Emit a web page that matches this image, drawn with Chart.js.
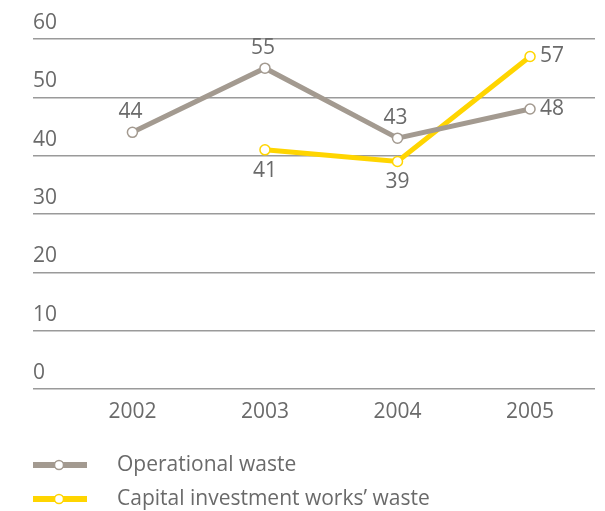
<!DOCTYPE html>
<html>
<head>
<meta charset="utf-8">
<script src="https://cdn.jsdelivr.net/npm/chart.js@4/dist/chart.umd.min.js"></script>
<style>
  html, body { margin: 0; padding: 0; background: #fff; }
  #wrap { width: 605px; height: 511px; }
</style>
</head>
<body>
<div id="wrap"><canvas id="wasteChart" width="605" height="511"></canvas></div>
<script>
// Chart data
const years = [2002, 2003, 2004, 2005];
const operationalWaste = [44, 55, 43, 48];
const capitalWaste = [null, 41, 39, 57];
const yTicks = [0, 10, 20, 30, 40, 50, 60];
const seriesNames = ['Operational waste', 'Capital investment works\u2019 waste'];

const GREY = '#a39a90';
const YELLOW = '#ffd500';
const TEXT = '#6a6a6a';
const FONT = '"Open Sans", sans-serif';
const FONT_SIZE = 21;

function toPoints(values) {
    return years
        .map((y, i) => ({ x: y, y: values[i] }))
        .filter(p => p.y !== null);
}

// value labels next to each point
const valueLabels = {
    id: 'valueLabels',
    afterDatasetsDraw(chart, args, opts) {
        const ctx = chart.ctx;
        ctx.save();
        ctx.font = FONT_SIZE + 'px ' + FONT;
        ctx.fillStyle = TEXT;
        ctx.textBaseline = 'middle';
        chart.data.datasets.forEach((ds, di) => {
            const meta = chart.getDatasetMeta(di);
            meta.data.forEach((pt, i) => {
                const pos = opts.positions[di][i];
                const txt = String(ds.data[i].y);
                if (pos === 'right') {
                    ctx.textAlign = 'left';
                    ctx.fillText(txt, pt.x + 10, pt.y);
                } else if (pos === 'bottom') {
                    ctx.textAlign = 'center';
                    ctx.fillText(txt, pt.x, pt.y + 21);
                } else {
                    ctx.textAlign = 'center';
                    ctx.fillText(txt, pt.x - 2, pt.y - 20);
                }
            });
        });
        ctx.restore();
    }
};

// legend drawn under the axis
const bottomLegend = {
    id: 'bottomLegend',
    afterDraw(chart) {
        const ctx = chart.ctx;
        ctx.save();
        const rows = [465, 499];
        chart.data.datasets.forEach((ds, i) => {
            const y = rows[i];
            ctx.strokeStyle = ds.borderColor;
            ctx.lineWidth = 6;
            ctx.beginPath();
            ctx.moveTo(33, y);
            ctx.lineTo(87, y);
            ctx.stroke();
            ctx.beginPath();
            ctx.arc(59, y, 4.5, 0, Math.PI * 2);
            ctx.fillStyle = '#fff';
            ctx.fill();
            ctx.lineWidth = 1.5;
            ctx.stroke();
            ctx.font = FONT_SIZE + 'px ' + FONT;
            ctx.fillStyle = TEXT;
            ctx.textAlign = 'left';
            ctx.textBaseline = 'middle';
            ctx.fillText(ds.label, 117, y);
        });
        ctx.restore();
    }
};

new Chart(document.getElementById('wasteChart'), {
    type: 'line',
    data: {
        datasets: [{
            label: seriesNames[0],
            data: toPoints(operationalWaste),
            borderColor: GREY,
            borderWidth: 5,
            pointRadius: 5,
            pointBorderWidth: 1.5,
            pointBackgroundColor: '#fff',
            pointBorderColor: GREY,
            tension: 0
        }, {
            label: seriesNames[1],
            data: toPoints(capitalWaste),
            borderColor: YELLOW,
            borderWidth: 5,
            pointRadius: 5,
            pointBorderWidth: 1.5,
            pointBackgroundColor: '#fff',
            pointBorderColor: YELLOW,
            tension: 0
        }]
    },
    options: {
        responsive: false,
        animation: false,
        layout: { padding: { left: 33, right: 10, top: 39, bottom: 0 } },
        plugins: {
            legend: { display: false },
            tooltip: { enabled: false },
            valueLabels: {
                positions: [
                    ['top', 'top', 'top', 'right'],
                    ['bottom', 'bottom', 'right']
                ]
            }
        },
        scales: {
            x: {
                type: 'linear',
                min: 2001.25,
                max: 2005.49,
                afterBuildTicks: s => { s.ticks = years.map(v => ({ value: v })); },
                afterFit: s => { s.height = 122; },
                grid: { display: false, drawTicks: false },
                border: { display: false },
                ticks: {
                    color: TEXT,
                    font: { family: FONT, size: FONT_SIZE },
                    padding: 10,
                    callback: v => String(v)
                }
            },
            y: {
                min: 0,
                max: 60,
                afterBuildTicks: s => { s.ticks = yTicks.map(v => ({ value: v })); },
                afterFit: s => { s.width = 0; },
                grid: { color: '#9a9a9a', lineWidth: 1.5, drawTicks: false },
                border: { display: false },
                ticks: {
                    mirror: true,
                    padding: 0,
                    labelOffset: -16,
                    color: TEXT,
                    font: { family: FONT, size: FONT_SIZE }
                }
            }
        }
    },
    plugins: [valueLabels, bottomLegend]
});
</script>
</body>
</html>
